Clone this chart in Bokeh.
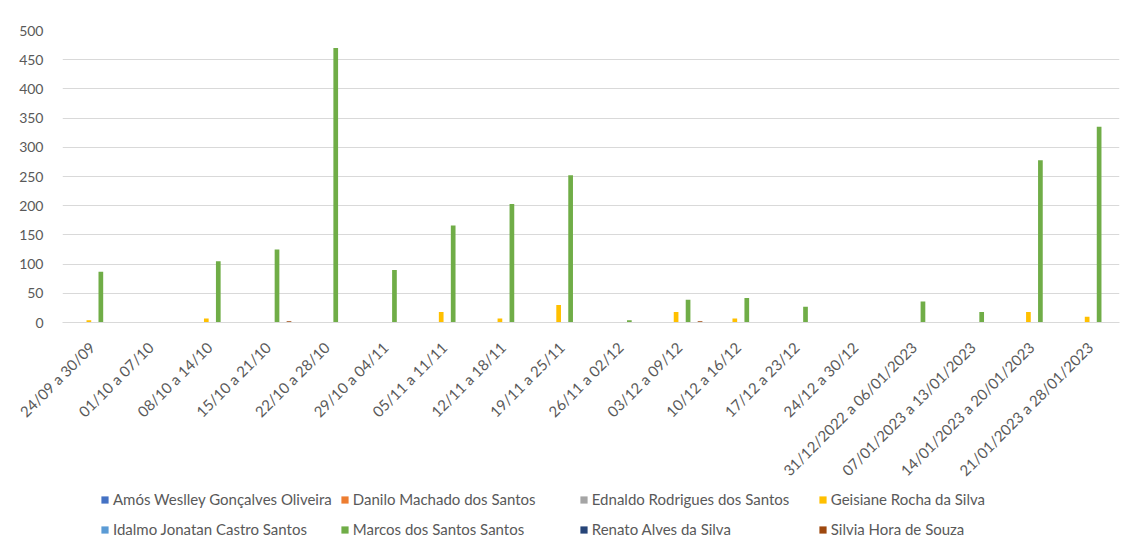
from math import pi
from bokeh.plotting import figure
from bokeh.layouts import column
from bokeh.models import (ColumnDataSource, FactorRange, Range1d, SingleIntervalTicker,
                          Legend, LegendItem)
from bokeh.transform import dodge
from bokeh.embed import file_html
from bokeh.resources import INLINE

categories = ["24/09 a 30/09", "01/10 a 07/10", "08/10 a 14/10", "15/10 a 21/10",
              "22/10 a 28/10", "29/10 a 04/11", "05/11 a 11/11", "12/11 a 18/11",
              "19/11 a 25/11", "26/11 a 02/12", "03/12 a 09/12", "10/12 a 16/12",
              "17/12 a 23/12", "24/12 a 30/12", "31/12/2022 a 06/01/2023",
              "07/01/2023 a 13/01/2023", "14/01/2023 a 20/01/2023", "21/01/2023 a 28/01/2023"]

series_names = ["Amós Weslley Gonçalves Oliveira", "Danilo Machado dos Santos",
                "Ednaldo Rodrigues dos Santos", "Geisiane Rocha da Silva",
                "Idalmo Jonatan Castro Santos", "Marcos dos Santos Santos",
                "Renato Alves da Silva", "Silvia Hora de Souza"]

amos     = [0] * 18
danilo   = [0] * 18
ednaldo  = [0] * 18
geisiane = [4, 0, 7, 0, 0, 0, 18, 7, 30, 0, 18, 7, 0, 0, 0, 0, 18, 10]
idalmo   = [0] * 18
marcos   = [87, 0, 105, 125, 470, 90, 166, 203, 252, 4, 39, 42, 27, 0, 36, 18, 278, 335]
renato   = [0] * 18
silvia   = [0, 0, 0, 2, 0, 0, 0, 0, 0, 0, 2, 0, 0, 0, 0, 0, 0, 0]

series_values = [amos, danilo, ednaldo, geisiane, idalmo, marcos, renato, silvia]
colors = ["#4472C4", "#ED7D31", "#A5A5A5", "#FFC000", "#5B9BD5", "#70AD47", "#264478", "#9E480E"]

FONT = "Lato"
TXT = "#595959"
GRID = "#d9d9d9"

p = figure(frame_width=1057, frame_height=292, output_backend="svg", toolbar_location=None,
           x_range=FactorRange(*categories, range_padding=0),
           y_range=Range1d(0, 500),
           min_border_left=62, min_border_right=1, min_border_top=30, min_border_bottom=100)
p.outline_line_color = None

slot = 0.102
for i, (name, vals, col) in enumerate(zip(series_names, series_values, colors)):
    src = ColumnDataSource(dict(cat=categories, top=vals))
    p.vbar(x=dodge("cat", (i - 3.5) * slot, range=p.x_range), top="top", bottom=0,
           width=0.08, source=src, fill_color=col, line_color=None)

p.yaxis.ticker = SingleIntervalTicker(interval=50)
p.yaxis.axis_line_color = None
p.yaxis.major_tick_line_color = None
p.yaxis.minor_tick_line_color = None
p.yaxis.major_tick_out = 0
p.yaxis.major_tick_in = 0
p.yaxis.major_label_standoff = 15
p.yaxis.major_label_text_font = FONT
p.yaxis.major_label_text_font_size = "14px"
p.yaxis.major_label_text_color = TXT

p.xaxis.axis_line_color = GRID
p.xaxis.major_tick_line_color = None
p.xaxis.minor_tick_line_color = None
p.xaxis.major_tick_out = 0
p.xaxis.major_tick_in = 0
p.xaxis.major_label_standoff = 22
p.xaxis.major_label_orientation = pi / 4
p.xaxis.major_label_text_font = FONT
p.xaxis.major_label_text_font_size = "15px"
p.xaxis.major_label_text_color = TXT

p.xgrid.grid_line_color = None
p.ygrid.grid_line_color = GRID
p.ygrid.grid_line_width = 1

# legend strip below the chart
pl = figure(frame_width=1057, frame_height=53, output_backend="svg", toolbar_location=None,
            x_range=Range1d(0, 1), y_range=Range1d(0, 1),
            min_border_left=62, min_border_right=1, min_border_top=0, min_border_bottom=0)
pl.axis.visible = False
pl.grid.grid_line_color = None
pl.outline_line_color = None
items = []
for name, col in zip(series_names, colors):
    r = pl.vbar(x=[-5], top=[-5], bottom=[-6], width=0.1, fill_color=col, line_color=None)
    items.append(LegendItem(label=name, renderers=[r]))

legend = Legend(items=items, orientation="horizontal", ncols=4,
                location=(38, 1),
                label_text_font=FONT, label_text_font_size="15px", label_text_color=TXT,
                glyph_width=9, glyph_height=9, label_standoff=4,
                label_width=218, label_height=22, spacing=8,
                padding=0, margin=0, border_line_color=None, background_fill_alpha=0)
pl.add_layout(legend, "center")

open("out.html", "w").write(file_html(column(p, pl, spacing=0), INLINE))
